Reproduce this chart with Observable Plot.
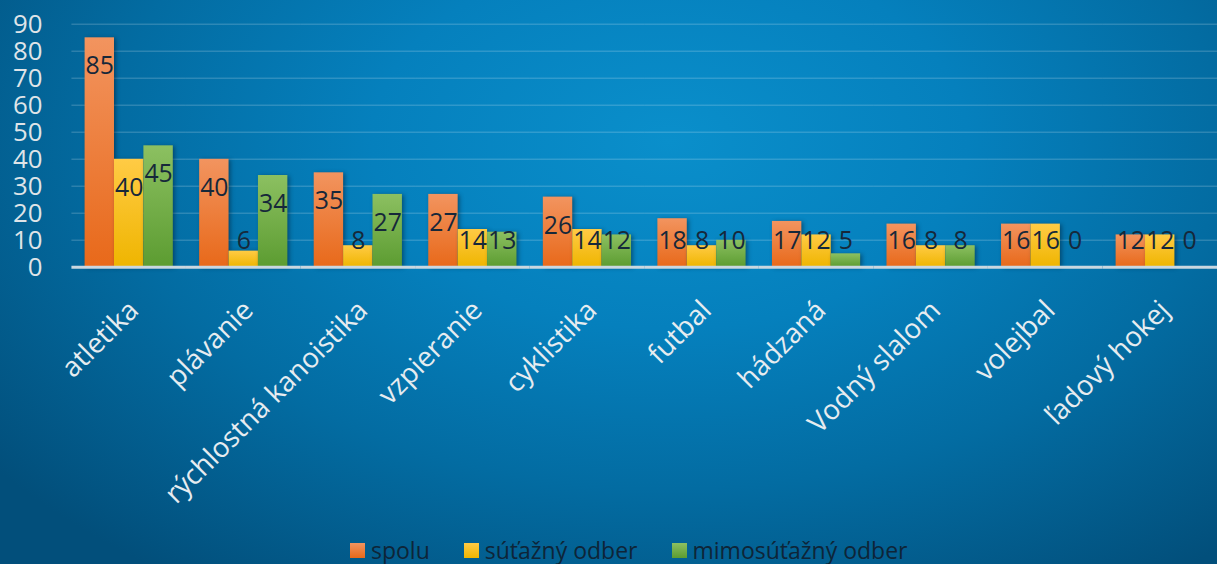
<!DOCTYPE html>
<html><head><meta charset="utf-8">
<script src="https://cdn.jsdelivr.net/npm/d3@7"></script>
<script src="https://cdn.jsdelivr.net/npm/@observablehq/plot@0.6"></script>
<style>
html,body{margin:0;padding:0;width:1217px;height:564px;overflow:hidden;}
body{position:relative;font-family:"Open Sans",sans-serif;
 background: radial-gradient(ellipse 70% 95% at 55% 25%, #0a8fcb 0%, #0580bd 35%, #036ca2 65%, #024f7b 100%);}
#chart{position:absolute;left:0;top:0;}
#legend{position:absolute;top:539px;left:350px;display:flex;align-items:center;font-size:23px;line-height:23px;color:#0e2538;white-space:nowrap;}
#legend .item{display:flex;align-items:center;margin-right:34px;}
#legend .sw{width:15px;height:15px;margin-right:6px;}
</style></head><body>
<div id="chart"></div>
<div id="legend"></div>
<script>
const categories = ["atletika","plávanie","rýchlostná kanoistika","vzpieranie","cyklistika","futbal","hádzaná","Vodný slalom","volejbal","ľadový hokej"];
const seriesNames = ["spolu","súťažný odber","mimosúťažný odber"];
const spolu = [85,40,35,27,26,18,17,16,16,12];
const sutazny = [40,6,8,14,14,8,12,8,16,12];
const mimosutazny = [45,34,27,13,12,10,5,8,0,0];
const yTicks = [0,10,20,30,40,50,60,70,80,90];

const seriesValues = [spolu, sutazny, mimosutazny];
const table = [];
categories.forEach((c, i) => seriesNames.forEach((s, j) => table.push({cat: c, series: s, value: seriesValues[j][i]})));

const gradIds = ["gOrange","gYellow","gGreen"];
const gradStops = [["#f2945f","#e8691a"],["#ffcb45","#efb500"],["#8cc061","#5c9c31"]];

const W = 1227, ML = 72, MR = 0;
const padIn = 0.23, padOut = 0.115;
const step = (W - ML - MR) / (categories.length - padIn + 2 * padOut);
const ext = -(padIn * step) / 2; // extend grid across facet gaps

const plot = Plot.plot({
  width: W, height: 525,
  marginLeft: ML, marginRight: MR, marginTop: 24, marginBottom: 256,
  style: {background: "transparent", fontFamily: "'Open Sans', sans-serif", overflow: "visible"},
  fx: {domain: categories, paddingInner: padIn, paddingOuter: padOut, round: false, axis: null, label: null},
  x: {domain: seriesNames, padding: 0, round: false, axis: null},
  y: {domain: [0, 90], axis: null},
  color: {domain: seriesNames, range: gradIds.map(id => `url(#${id})`)},
  marks: [
    Plot.ruleY(yTicks.filter(t => t > 0), {stroke: "#ffffff", strokeOpacity: 0.17, strokeWidth: 1.5, insetLeft: ext, insetRight: ext}),
    Plot.axisY({ticks: yTicks, anchor: "left", tickSize: 0, tickPadding: 43, fontSize: 26, color: "#dfe4e8", label: null}),
    Plot.barY(table, {fx: "cat", x: "series", y: "value", fill: "series"}),
    Plot.ruleY([0], {stroke: "#c9d7e0", strokeWidth: 3, insetLeft: ext, insetRight: ext}),
    Plot.text(table, {fx: "cat", x: "series", y: d => Math.max(d.value - 10.65, 9.55), text: d => String(d.value), fontSize: 25, fill: "#16283a"}),
    Plot.text(categories, {fx: d => d, text: d => d, frameAnchor: "bottom", rotate: -45, textAnchor: "end", lineAnchor: "top", dx: -3, dy: 31, fontSize: 28, fill: "#e6ecf0"})
  ]
});

const svg = d3.select(plot);
const defs = svg.insert("defs", ":first-child");
gradIds.forEach((id, k) => {
  const g = defs.append("linearGradient").attr("id", id).attr("x1", 0).attr("y1", 0).attr("x2", 0).attr("y2", 1);
  g.append("stop").attr("offset", "0%").attr("stop-color", gradStops[k][0]);
  g.append("stop").attr("offset", "100%").attr("stop-color", gradStops[k][1]);
});
svg.selectAll("g[aria-label='bar'] rect").style("filter", "drop-shadow(2px 1px 2px rgba(0,20,40,0.45))");
document.getElementById("chart").appendChild(plot);

const legend = d3.select("#legend");
seriesNames.forEach((s, k) => {
  const it = legend.append("div").attr("class", "item");
  it.append("div").attr("class", "sw").style("background", `linear-gradient(${gradStops[k][0]}, ${gradStops[k][1]})`);
  it.append("span").text(s);
});
</script>
</body></html>
